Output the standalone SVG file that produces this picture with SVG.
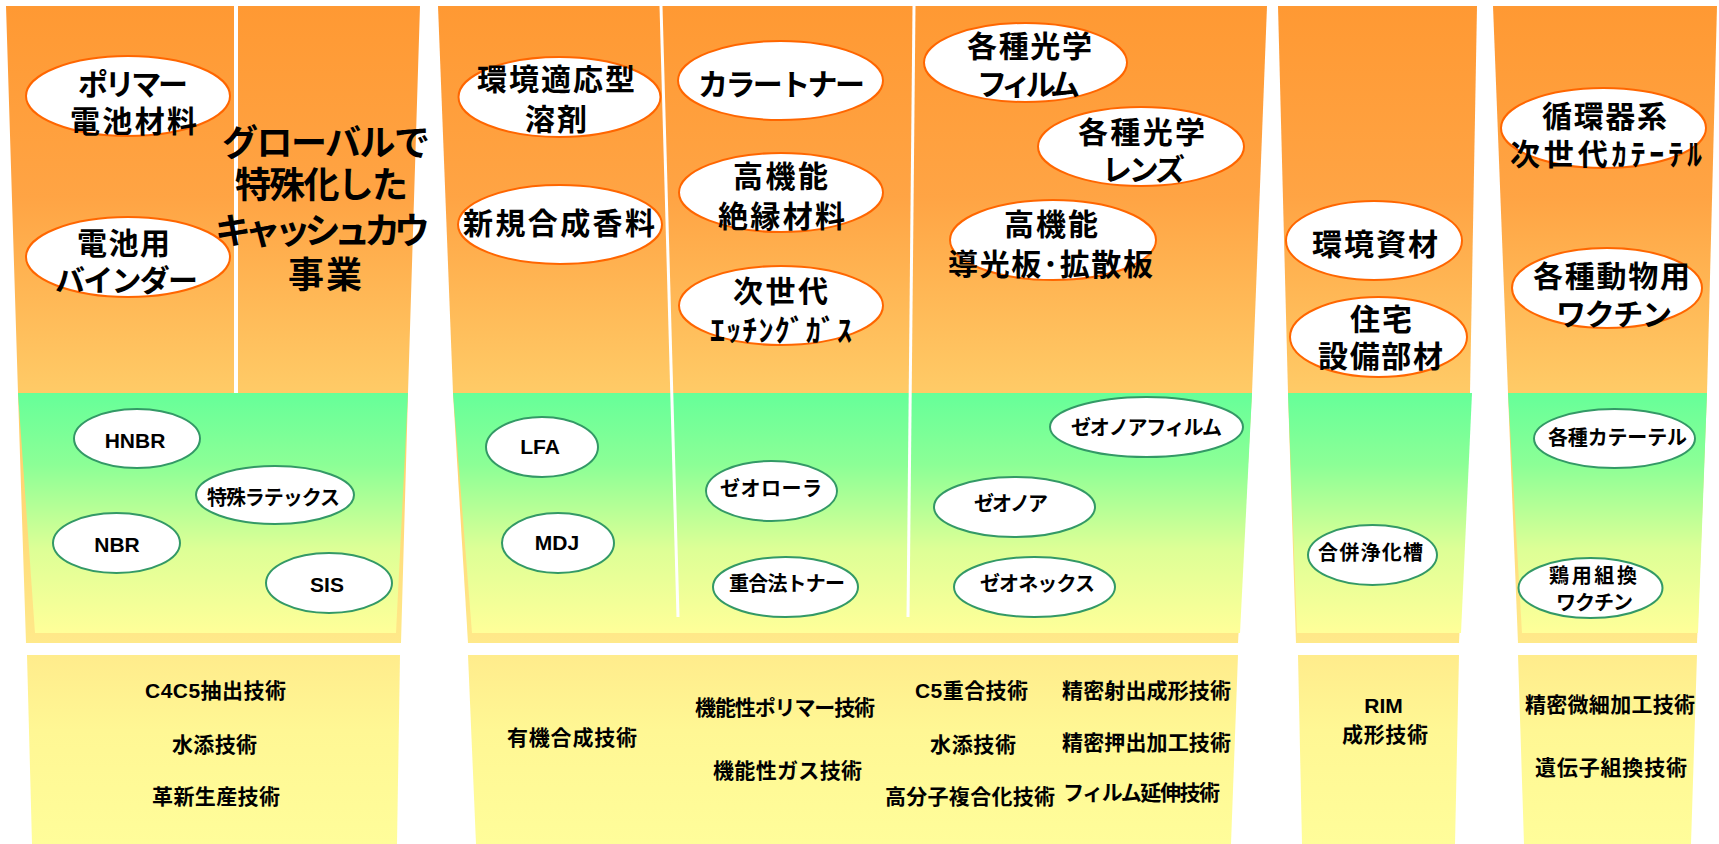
<svg xmlns="http://www.w3.org/2000/svg" width="1719" height="844" viewBox="0 0 1719 844">
<defs>
<linearGradient id="gOr" gradientUnits="userSpaceOnUse" x1="0" y1="6" x2="0" y2="643">
<stop offset="0" stop-color="#FF9933"/>
<stop offset="0.3" stop-color="#FFA444"/>
<stop offset="0.6" stop-color="#FFCA66"/>
<stop offset="1" stop-color="#FFE98A"/>
</linearGradient>
<linearGradient id="gGr" gradientUnits="userSpaceOnUse" x1="0" y1="393" x2="0" y2="633">
<stop offset="0" stop-color="#66FF99"/>
<stop offset="0.3" stop-color="#8CFF96"/>
<stop offset="0.65" stop-color="#DDFF96"/>
<stop offset="1" stop-color="#FFFF99"/>
</linearGradient>
<linearGradient id="gYe" gradientUnits="userSpaceOnUse" x1="0" y1="655" x2="0" y2="844">
<stop offset="0" stop-color="#FFEC8C"/>
<stop offset="0.4" stop-color="#FFF794"/>
<stop offset="1" stop-color="#FFFD9A"/>
</linearGradient>
</defs>
<style>
.bg{fill:url(#gOr)}
.gr{fill:url(#gGr)}
.ye{fill:url(#gYe)}
.div{stroke:#FFFFFF;fill:none}
.eo{fill:#FFFFFF;stroke:#FF6600;stroke-width:2}
.eg{fill:#FFFFFF;stroke:#339966;stroke-width:2}
text{font-family:"Liberation Sans","Noto Sans CJK JP",sans-serif;font-weight:bold;fill:#000000;text-anchor:middle;dominant-baseline:central}
.t30{font-size:30px}
.t36{font-size:36px}
.t20{font-size:20px}
.t21{font-size:21px}
</style>

<g id="backgrounds">
<polygon class="bg" points="6,6 420,6 408,393 401,643 26,643 18,393"/>
<polygon class="bg" points="438,6 1267,6 1252,393 1238,643 468,643 453,393"/>
<polygon class="bg" points="1278,6 1477,6 1470,393 1459,643 1296,643 1288,393"/>
<polygon class="bg" points="1493,6 1717,6 1707,393 1697,643 1518,643 1508,393"/>
<polygon class="gr" points="18,393 408,393 396,633 35,633"/>
<polygon class="gr" points="453,393 1252,393 1240,633 472,633"/>
<polygon class="gr" points="1288,393 1472,393 1461,633 1297,633"/>
<polygon class="gr" points="1508,393 1707,393 1698,633 1522,633"/>
<polygon class="ye" points="27,655 400,655 397,844 32,844"/>
<polygon class="ye" points="468,655 1238,655 1231,844 476,844"/>
<polygon class="ye" points="1298,655 1459,655 1455,844 1302,844"/>
<polygon class="ye" points="1518,655 1697,655 1691,844 1524,844"/>
</g>

<g id="connectors">
<line class="div" x1="236" y1="6" x2="236" y2="393" stroke-width="4"/>
<line class="div" x1="661" y1="6" x2="678" y2="617" stroke-width="3"/>
<line class="div" x1="914" y1="6" x2="908" y2="617" stroke-width="3"/>
</g>

<g id="n-polymer"><ellipse class="eo" cx="128" cy="96" rx="102" ry="40"/>
<text class="t30" x="133" y="84.5" textLength="110">ポリマー</text>
<text class="t30" x="133.5" y="121.5" textLength="127">電池材料</text></g>
<g id="n-binder"><ellipse class="eo" cx="128" cy="257" rx="102" ry="40"/>
<text class="t30" x="123.5" y="243.5" textLength="93">電池用</text>
<text class="t30" x="126.5" y="280" textLength="143">バインダー</text></g>
<g id="n-global">
<text class="t36" x="326" y="143" textLength="208">グローバルで</text>
<text class="t36" x="321.5" y="185.5" textLength="173">特殊化した</text>
<text class="t36" x="322.5" y="231" textLength="215">キャッシュカウ</text>
<text class="t36" x="325" y="275.5" textLength="74">事業</text></g>

<g id="n-solvent"><ellipse class="eo" cx="559.5" cy="97" rx="101" ry="40"/>
<text class="t30" x="556" y="79.5" textLength="158">環境適応型</text>
<text class="t30" x="556" y="119.5" textLength="62">溶剤</text></g>
<g id="n-aroma"><ellipse class="eo" cx="560" cy="224.5" rx="102" ry="39.5"/>
<text class="t30" x="559" y="223.5" textLength="192">新規合成香料</text></g>
<g id="n-toner"><ellipse class="eo" cx="780.5" cy="80.5" rx="102.5" ry="39.5"/>
<text class="t30" x="781.5" y="84" textLength="167">カラートナー</text></g>
<g id="n-insul"><ellipse class="eo" cx="781" cy="192.5" rx="102" ry="39.5"/>
<text class="t30" x="780.5" y="176.5" textLength="95">高機能</text>
<text class="t30" x="781.5" y="216" textLength="127">絶縁材料</text></g>
<g id="n-etch"><ellipse class="eo" cx="781" cy="305.5" rx="102" ry="39.5"/>
<text class="t30" x="780.5" y="291" textLength="95">次世代</text>
<text class="t30" x="781" y="330" textLength="142">ｴｯﾁﾝｸﾞｶﾞｽ</text></g>
<g id="n-film"><ellipse class="eo" cx="1025.5" cy="62.5" rx="101.5" ry="39.5"/>
<text class="t30" x="1029.5" y="46" textLength="125">各種光学</text>
<text class="t30" x="1028.5" y="84" textLength="103">フィルム</text></g>
<g id="n-lens"><ellipse class="eo" cx="1141" cy="146.5" rx="103" ry="39.5"/>
<text class="t30" x="1141.5" y="132.5" textLength="127">各種光学</text>
<text class="t30" x="1143.5" y="169" textLength="83">レンズ</text></g>
<g id="n-lgp"><ellipse class="eo" cx="1053" cy="240" rx="103" ry="40"/>
<text class="t30" x="1051" y="224" textLength="94">高機能</text>
<text class="t30" x="1050.5" y="264" textLength="205">導光板･拡散板</text></g>

<g id="n-envmat"><ellipse class="eo" cx="1374" cy="240.5" rx="88" ry="39.5"/>
<text class="t30" x="1375" y="244" textLength="126">環境資材</text></g>
<g id="n-house"><ellipse class="eo" cx="1378.5" cy="337" rx="88.5" ry="40"/>
<text class="t30" x="1381" y="319" textLength="62">住宅</text>
<text class="t30" x="1380.5" y="356.5" textLength="125">設備部材</text></g>
<g id="n-cath"><ellipse class="eo" cx="1603.5" cy="128" rx="102.5" ry="40"/>
<text class="t30" x="1604.5" y="116" textLength="125">循環器系</text>
<text class="t30" x="1606" y="154" textLength="192">次世代ｶﾃｰﾃﾙ</text></g>
<g id="n-vaccine"><ellipse class="eo" cx="1607" cy="288" rx="95" ry="40"/>
<text class="t30" x="1611.5" y="276" textLength="157">各種動物用</text>
<text class="t30" x="1614" y="314" textLength="116">ワクチン</text></g>

<g id="n-hnbr"><ellipse class="eg" cx="137" cy="438.5" rx="63" ry="29.5"/>
<text class="t21" x="135" y="440.5">HNBR</text></g>
<g id="n-latex"><ellipse class="eg" cx="275" cy="495" rx="79" ry="29"/>
<text class="t20" x="273.5" y="497.5" textLength="133">特殊ラテックス</text></g>
<g id="n-nbr"><ellipse class="eg" cx="116.5" cy="543" rx="63.5" ry="30"/>
<text class="t21" x="117" y="544.5">NBR</text></g>
<g id="n-sis"><ellipse class="eg" cx="329" cy="583" rx="63" ry="30"/>
<text class="t21" x="327" y="584.5">SIS</text></g>
<g id="n-lfa"><ellipse class="eg" cx="542" cy="447" rx="56" ry="30"/>
<text class="t21" x="540" y="446.5">LFA</text></g>
<g id="n-mdj"><ellipse class="eg" cx="558" cy="543" rx="56" ry="30"/>
<text class="t21" x="557" y="542.5">MDJ</text></g>
<g id="n-zeorora"><ellipse class="eg" cx="771.5" cy="491" rx="65.5" ry="30"/>
<text class="t20" x="771" y="488.5" textLength="102">ゼオローラ</text></g>
<g id="n-ptoner"><ellipse class="eg" cx="785.5" cy="587" rx="72.5" ry="30"/>
<text class="t20" x="787" y="584" textLength="116">重合法トナー</text></g>
<g id="n-zfilm"><ellipse class="eg" cx="1146.5" cy="427" rx="96.5" ry="30"/>
<text class="t20" x="1146.5" y="427.5" textLength="151">ゼオノアフィルム</text></g>
<g id="n-zeonor"><ellipse class="eg" cx="1014.5" cy="507" rx="80.5" ry="30"/>
<text class="t20" x="1011" y="504" textLength="74">ゼオノア</text></g>
<g id="n-zeonex"><ellipse class="eg" cx="1034.5" cy="587" rx="80.5" ry="30"/>
<text class="t20" x="1037.5" y="584" textLength="115">ゼオネックス</text></g>
<g id="n-septic"><ellipse class="eg" cx="1372.5" cy="555" rx="64.5" ry="30"/>
<text class="t20" x="1370.5" y="552.5" textLength="105">合併浄化槽</text></g>
<g id="n-cathe"><ellipse class="eg" cx="1614.5" cy="438.5" rx="80.5" ry="29.5"/>
<text class="t20" x="1617.5" y="437.5" textLength="139">各種カテーテル</text></g>
<g id="n-chick"><ellipse class="eg" cx="1590.5" cy="588" rx="72" ry="30"/>
<text class="t20" x="1593" y="576" textLength="88">鶏用組換</text>
<text class="t20" x="1594.5" y="603" textLength="77">ワクチン</text></g>

<g id="tech-a">
<text class="t21" x="215.5" y="690" textLength="141">C4C5抽出技術</text>
<text class="t21" x="214.5" y="744" textLength="85">水添技術</text>
<text class="t21" x="216" y="796" textLength="128">革新生産技術</text></g>
<g id="tech-b">
<text class="t21" x="572" y="737.5" textLength="130">有機合成技術</text>
<text class="t21" x="785" y="707" textLength="180">機能性ポリマー技術</text>
<text class="t21" x="787.5" y="770" textLength="149">機能性ガス技術</text>
<text class="t21" x="971.5" y="690" textLength="113">C5重合技術</text>
<text class="t21" x="973" y="744" textLength="86">水添技術</text>
<text class="t21" x="970" y="796" textLength="170">高分子複合化技術</text>
<text class="t21" x="1146.5" y="690" textLength="169">精密射出成形技術</text>
<text class="t21" x="1146.5" y="742.5" textLength="169">精密押出加工技術</text>
<text class="t21" x="1141.5" y="792.5" textLength="157">フィルム延伸技術</text></g>
<g id="tech-c">
<text class="t21" x="1383.5" y="705.5">RIM</text>
<text class="t21" x="1385" y="734" textLength="86">成形技術</text></g>
<g id="tech-d">
<text class="t21" x="1610" y="704" textLength="170">精密微細加工技術</text>
<text class="t21" x="1611" y="767.5" textLength="152">遺伝子組換技術</text></g>
</svg>
